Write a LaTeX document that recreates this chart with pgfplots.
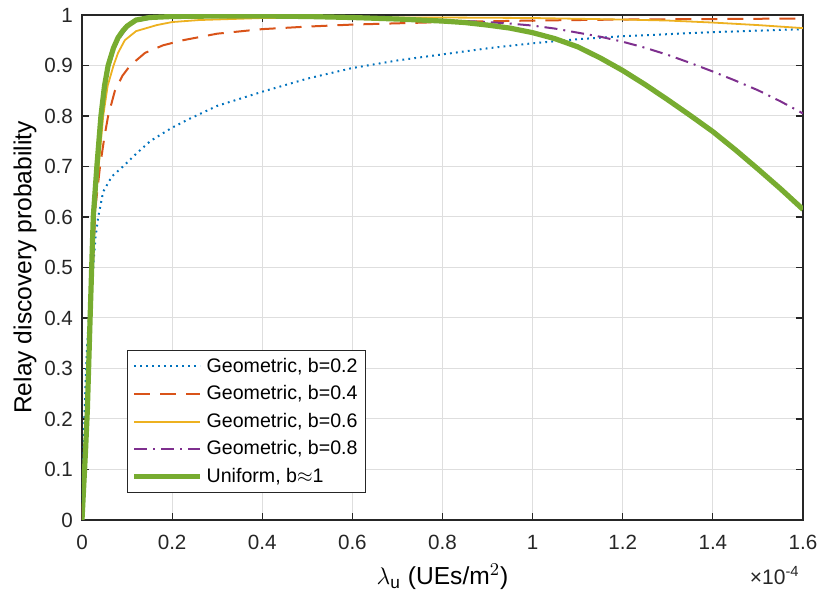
\documentclass[border=0pt]{standalone}
\usepackage{fontspec}
\setmainfont{Liberation Sans}
\usepackage{pgfplots}
\pgfplotsset{compat=1.18}
\definecolor{mblue}{rgb}{0,0.447,0.741}
\definecolor{morange}{rgb}{0.85,0.325,0.098}
\definecolor{myellow}{rgb}{0.929,0.694,0.125}
\definecolor{mpurple}{rgb}{0.494,0.184,0.556}
\definecolor{mgreen}{rgb}{0.466,0.674,0.188}
\definecolor{axgray}{rgb}{0.15,0.15,0.15}
\begin{document}
\begin{tikzpicture}
\useasboundingbox (-41pt,-41.5pt) rectangle (369.5pt,260pt);
\begin{axis}[
  name=ax,
  at={(0,0)}, anchor=south west,
  scale only axis,
  width=360.5pt, height=252.5pt,
  xmin=0, xmax=1.6, ymin=0, ymax=1,
  xtick={0,0.2,...,1.6},
  ytick={0,0.1,...,1.0},
  xticklabels={0,0.2,0.4,0.6,0.8,1,1.2,1.4,1.6},
  yticklabels={0,0.1,0.2,0.3,0.4,0.5,0.6,0.7,0.8,0.9,1},
  grid=major,
  major grid style={color=black!13, line width=0.5pt},
  axis line style={color=axgray, line width=0.6pt},
  tick style={color=axgray, line width=0.6pt},
  major tick length=3.5pt,
  tick align=inside,
  /pgf/number format/assume math mode=true,
  tick label style={font=\fontsize{10.3}{12}\selectfont, color=black!85},
  xticklabel style={yshift=-4pt},
  yticklabel style={xshift=-1pt},
  label style={font=\fontsize{12.3}{14}\selectfont},
  xlabel={$\lambda_{\mathrm{u}}$ (UEs/m$^2$)},
  ylabel={Relay discovery probability},
  xlabel style={yshift=-0.5pt},
  ylabel style={yshift=-3pt},
  legend style={at={(0.0624,0.0535)}, anchor=south west, draw=axgray, line width=0.5pt,
    font=\fontsize{9.8}{11.5}\selectfont, row sep=1.2pt, inner xsep=2pt, inner ysep=1.5pt},
  legend cell align=left,
  legend image code/.code={\draw[#1] (0pt,0pt) -- (33pt,0pt);},
]
\addplot[mblue, line width=1pt, dash pattern=on 0.9pt off 2.1pt] coordinates {
(0,0) (0.003,0.12) (0.006,0.22) (0.01,0.32) (0.015,0.40) (0.02,0.45) (0.025,0.50) (0.03,0.56) (0.036,0.60) (0.047,0.65) (0.066,0.68) (0.091,0.70) (0.12,0.725) (0.151,0.75) (0.2,0.777) (0.24,0.795) (0.3,0.82) (0.4,0.848) (0.5,0.874) (0.6,0.895) (0.7,0.91) (0.8,0.922) (0.9,0.934) (1.0,0.944) (1.1,0.952) (1.2,0.958) (1.3,0.962) (1.4,0.966) (1.5,0.969) (1.6,0.972)
};
\addlegendentry{Geometric, b=0.2}
\addplot[morange, line width=1pt, dash pattern=on 8pt off 5pt] coordinates {
(0,0) (0.005,0.08) (0.01,0.17) (0.015,0.27) (0.02,0.40) (0.025,0.52) (0.03,0.62) (0.04,0.70) (0.05,0.76) (0.058,0.80) (0.073,0.85) (0.09,0.88) (0.107,0.90) (0.14,0.925) (0.18,0.94) (0.224,0.95) (0.3,0.963) (0.4,0.972) (0.5,0.977) (0.6,0.981) (0.8,0.986) (1.0,0.989) (1.2,0.991) (1.4,0.992) (1.6,0.993)
};
\addlegendentry{Geometric, b=0.4}
\addplot[myellow, line width=0.9pt] coordinates {
(0,0) (0.004,0.07) (0.008,0.13) (0.012,0.21) (0.018,0.38) (0.025,0.56) (0.033,0.66) (0.04,0.73) (0.047,0.80) (0.057,0.86) (0.07,0.90) (0.08,0.925) (0.095,0.95) (0.12,0.968) (0.166,0.98) (0.2,0.986) (0.26,0.99) (0.4,0.994) (0.6,0.995) (0.8,0.995) (1.0,0.994) (1.2,0.991) (1.3,0.989) (1.4,0.985) (1.5,0.980) (1.6,0.974)
};
\addlegendentry{Geometric, b=0.6}
\addplot[mpurple, line width=1pt, dash pattern=on 6.5pt off 3pt on 1pt off 3pt] coordinates {
(0,0) (0.004,0.07) (0.008,0.14) (0.012,0.22) (0.018,0.40) (0.025,0.59) (0.033,0.69) (0.042,0.79) (0.05,0.85) (0.058,0.89) (0.07,0.93) (0.08,0.95) (0.1,0.975) (0.12,0.987) (0.15,0.993) (0.2,0.996) (0.3,0.997) (0.4,0.997) (0.5,0.996) (0.6,0.995) (0.7,0.993) (0.8,0.99) (0.9,0.986) (0.95,0.983) (1.0,0.979) (1.05,0.973) (1.1,0.965) (1.15,0.957) (1.2,0.947) (1.25,0.935) (1.3,0.921) (1.35,0.905) (1.4,0.888) (1.45,0.870) (1.5,0.851) (1.55,0.829) (1.6,0.805)
};
\addlegendentry{Geometric, b=0.8}
\addplot[mgreen, line width=2.6pt] coordinates {
(0,0) (0.004,0.07) (0.008,0.14) (0.012,0.22) (0.018,0.40) (0.025,0.60) (0.033,0.70) (0.042,0.80) (0.05,0.86) (0.058,0.90) (0.07,0.935) (0.08,0.955) (0.09,0.968) (0.1,0.978) (0.12,0.99) (0.15,0.995) (0.2,0.997) (0.3,0.998) (0.4,0.998) (0.5,0.997) (0.6,0.995) (0.7,0.992) (0.8,0.988) (0.85,0.985) (0.9,0.980) (0.95,0.974) (1.0,0.965) (1.05,0.953) (1.1,0.937) (1.15,0.915) (1.2,0.890) (1.25,0.862) (1.3,0.832) (1.35,0.801) (1.4,0.769) (1.45,0.733) (1.5,0.695) (1.55,0.656) (1.6,0.615)
};
\addlegendentry{Uniform, b$\approx$1}
\end{axis}
\node[anchor=north east, font=\fontsize{10.5}{12}\selectfont, inner sep=0pt, text=black!85] at ([xshift=-1.5pt,yshift=-23pt]ax.south east) {×10\textsuperscript{-4}};
\end{tikzpicture}
\end{document}
